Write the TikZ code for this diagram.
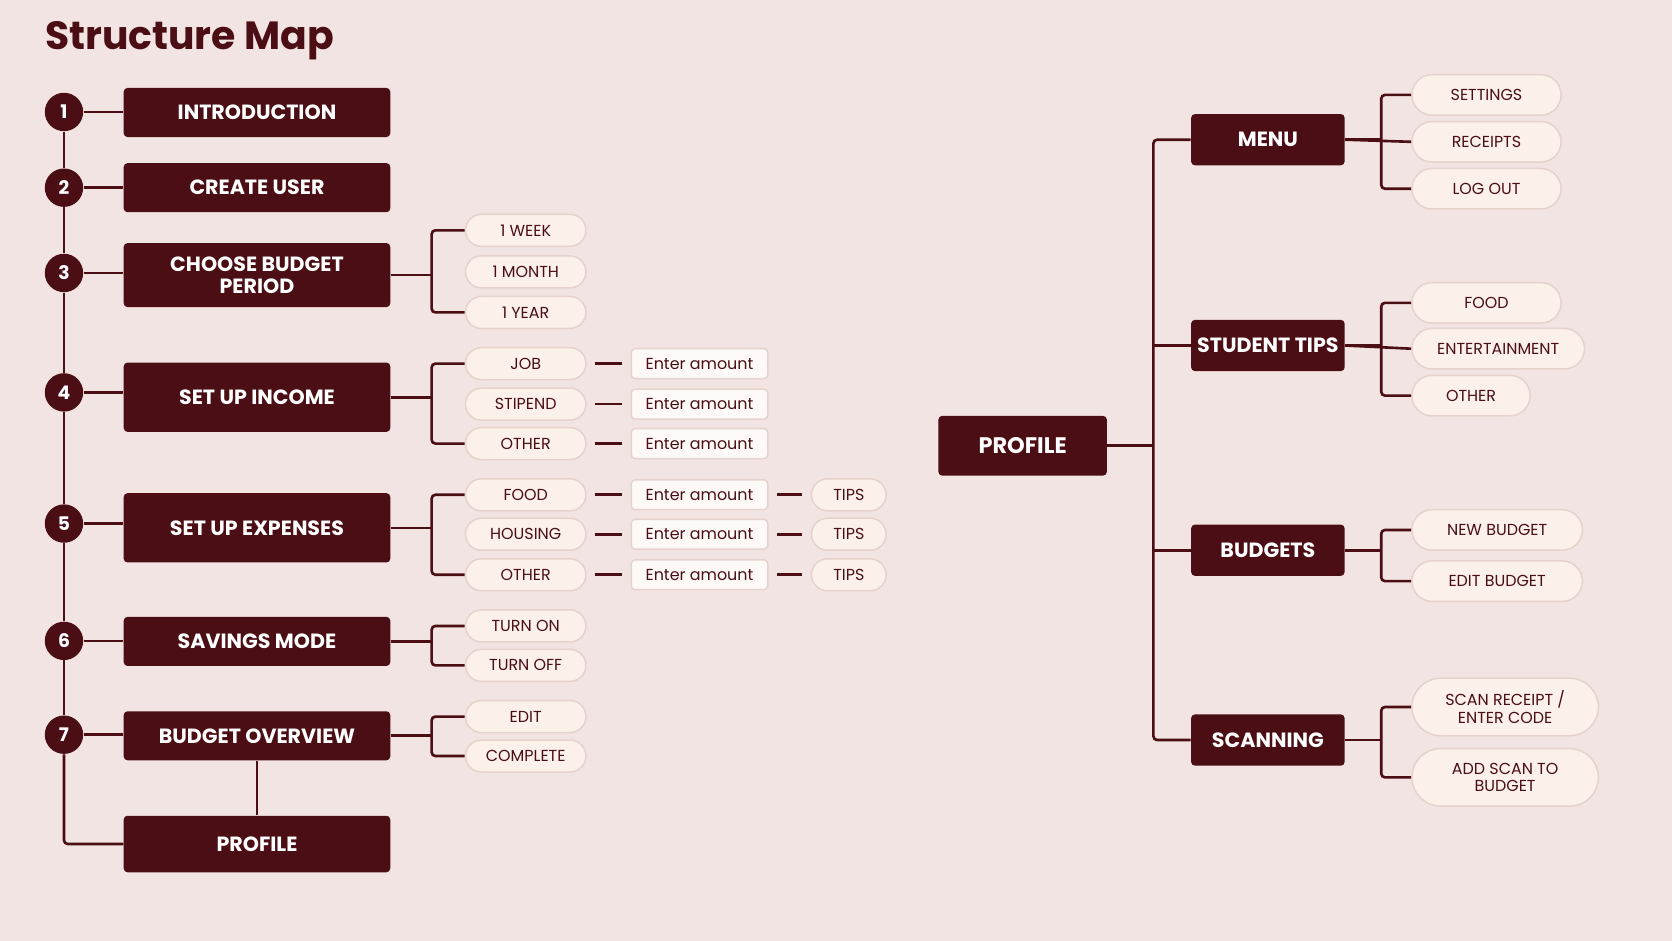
\documentclass[tikz,border=0pt]{standalone}
\usepackage{fontspec}
\setmainfont{Poppins}
\begin{document}
\definecolor{bg}{HTML}{F2E4E2}
\definecolor{dk}{HTML}{4A0E14}
\definecolor{cr}{HTML}{FBF1EA}
\definecolor{bd}{HTML}{E6D2CC}
\begin{tikzpicture}[x=0.02cm,y=-0.02cm,
 ln/.style={draw=dk,line width=1.4pt,rounded corners=2pt},
 box/.style={fill=dk,text=white,font=\fontsize{11}{12}\selectfont\bfseries,align=center,rounded corners=2pt,inner sep=0pt},
 num/.style={circle,fill=dk,text=white,minimum size=0.72cm,inner sep=0pt,font=\fontsize{10}{11}\selectfont\bfseries},
 pill/.style={fill=cr,draw=bd,line width=0.8pt,text=dk,font=\fontsize{8.5}{10}\selectfont,align=center,inner sep=0pt,minimum height=0.6cm,rounded corners=0.3cm},
 ent/.style={fill=white!60!cr,draw=bd,line width=0.8pt,text=dk,font=\fontsize{8.5}{10}\selectfont,inner sep=0pt,minimum width=2.56cm,minimum height=0.56cm,rounded corners=2pt},
 rp/.style={pill,minimum height=0.76cm,rounded corners=0.38cm}]
\fill[bg] (0,0) rectangle (1568,882);
\useasboundingbox (0,0) rectangle (1568,882);
\node[anchor=west,text=dk,font=\fontsize{21}{24}\selectfont\bfseries] (title) at (36,38) {Structure Map};
% left boxes
\foreach \n/\y/\h/\t in {1/105.5/0.92/INTRODUCTION,2/176/0.92/CREATE USER,3/258/1.2/{CHOOSE BUDGET\\PERIOD},4/372.5/1.3/SET UP INCOME,5/495/1.3/SET UP EXPENSES,6/601.5/0.92/SAVINGS MODE,7/690/0.92/BUDGET OVERVIEW}{
 \node[box,minimum width=5cm,minimum height=\h cm] (b\n) at (241,\y) {\t};}
\node[box,minimum width=5cm,minimum height=1.06cm] (b8) at (241,791.5) {PROFILE};
\foreach \n/\y in {1/105,2/176,3/256,4/368,5/491,6/601,7/689}{
 \node[num] (c\n) at (60,\y) {\n};}
\draw[ln] (c1) -- (c2); \draw[ln] (c2) -- (c3); \draw[ln] (c3) -- (c4); \draw[ln] (c4) -- (c5);
\draw[ln] (c5) -- (c6); \draw[ln] (c6) -- (c7);
\draw[ln] (c7.south) |- (b8.west);
\draw[ln] (b7) -- (b8);
\foreach \n/\y in {1/105,2/176,3/256,4/368,5/491,6/601,7/689}{
 \draw[ln] (c\n.east) -- (c\n.east -| b\n.west);}
% pills col1
\foreach \nm/\y/\t in {w1/216/1 WEEK,w2/255/1 MONTH,w3/293/1 YEAR,i1/341/JOB,i2/379/STIPEND,i3/416/OTHER,e1/464/FOOD,e2/501/HOUSING,e3/539/OTHER,s1/587/TURN ON,s2/624/TURN OFF,o1/672/EDIT,o2/709/COMPLETE}{
 \node[pill,minimum width=2.26cm] (\nm) at (493,\y) {\t};}
\foreach \k in {1,2,3}{
 \node[ent] (ia\k) at (656,{(\k==1)*341+(\k==2)*379+(\k==3)*416}) {Enter amount};
 \node[ent] (ea\k) at (656,{(\k==1)*464+(\k==2)*501+(\k==3)*539}) {Enter amount};
 \node[pill,minimum width=1.4cm] (t\k) at (796,{(\k==1)*464+(\k==2)*501+(\k==3)*539}) {TIPS};
 \draw[ln] ([xshift=-0.12cm]i\k.east) ++(0.27cm,0) -- ([xshift=-0.16cm]ia\k.west);
 \draw[ln] ([xshift=-0.12cm]e\k.east) ++(0.27cm,0) -- ([xshift=-0.16cm]ea\k.west);
 \draw[ln] ([xshift=0.16cm]ea\k.east) -- ([xshift=-0.16cm]t\k.west);
}
\foreach \b/\p/\q in {b3/w1/w3,b4/i1/i3,b5/e1/e3,b6/s1/s2,b7/o1/o2}{
 \draw[ln] (\p.west) -- ++(-31,0) |- (\q.west);
 \draw[ln] (\b.east) -- ++(40,0) coordinate (j\b);}
% right side
\node[box,minimum width=3.16cm,minimum height=1.12cm,font=\fontsize{12}{13}\selectfont\bfseries] (pr) at (959,418) {PROFILE};
\foreach \nm/\y/\t in {m/131/MENU,st/324/STUDENT TIPS,bu/516/BUDGETS,sc/694/SCANNING}{
 \node[box,minimum width=2.88cm,minimum height=0.96cm] (\nm) at (1189,\y) {\t};}
\draw[ln] (pr.east) -- ++(44,0) coordinate (pj);
\draw[ln] (m.west) -- ++(-35,0) |- (sc.west);
\draw[ln] (st.west) -- ++(-35,0);
\draw[ln] (bu.west) -- ++(-35,0);
\foreach \nm/\x/\w/\y/\t in {r1/1394/2.8/89/SETTINGS,r2/1394/2.8/133/RECEIPTS,r3/1394/2.8/177/LOG OUT,f1/1394/2.8/284/FOOD,f2/1405/3.24/327/ENTERTAINMENT,f3/1379.5/2.22/371/OTHER,n1/1404/3.2/497/NEW BUDGET,n2/1404/3.2/545/EDIT BUDGET}{
 \node[rp,minimum width=\w cm] (\nm) at (\x,\y) {\t};}
\node[rp,minimum width=3.5cm,minimum height=1.08cm,rounded corners=0.54cm,font=\fontsize{8.5}{9.5}\selectfont] (a1) at (1411.5,663) {SCAN RECEIPT /\\ENTER CODE};
\node[rp,minimum width=3.5cm,minimum height=1.08cm,rounded corners=0.54cm,font=\fontsize{8.5}{9.5}\selectfont] (a2) at (1411.5,729) {ADD SCAN TO\\BUDGET};
\foreach \b/\p/\q in {m/r1/r3,st/f1/f3,bu/n1/n2,sc/a1/a2}{
 \draw[ln] (\p.west) -- ++(-28,0) |- (\q.west);
 \draw[ln] (\b.east) -- ++(35,0) coordinate (k\b);}
\draw[ln] (m.east) -- (r2.west);
\draw[ln] (st.east) -- (f2.west);
\end{tikzpicture}
\end{document}
